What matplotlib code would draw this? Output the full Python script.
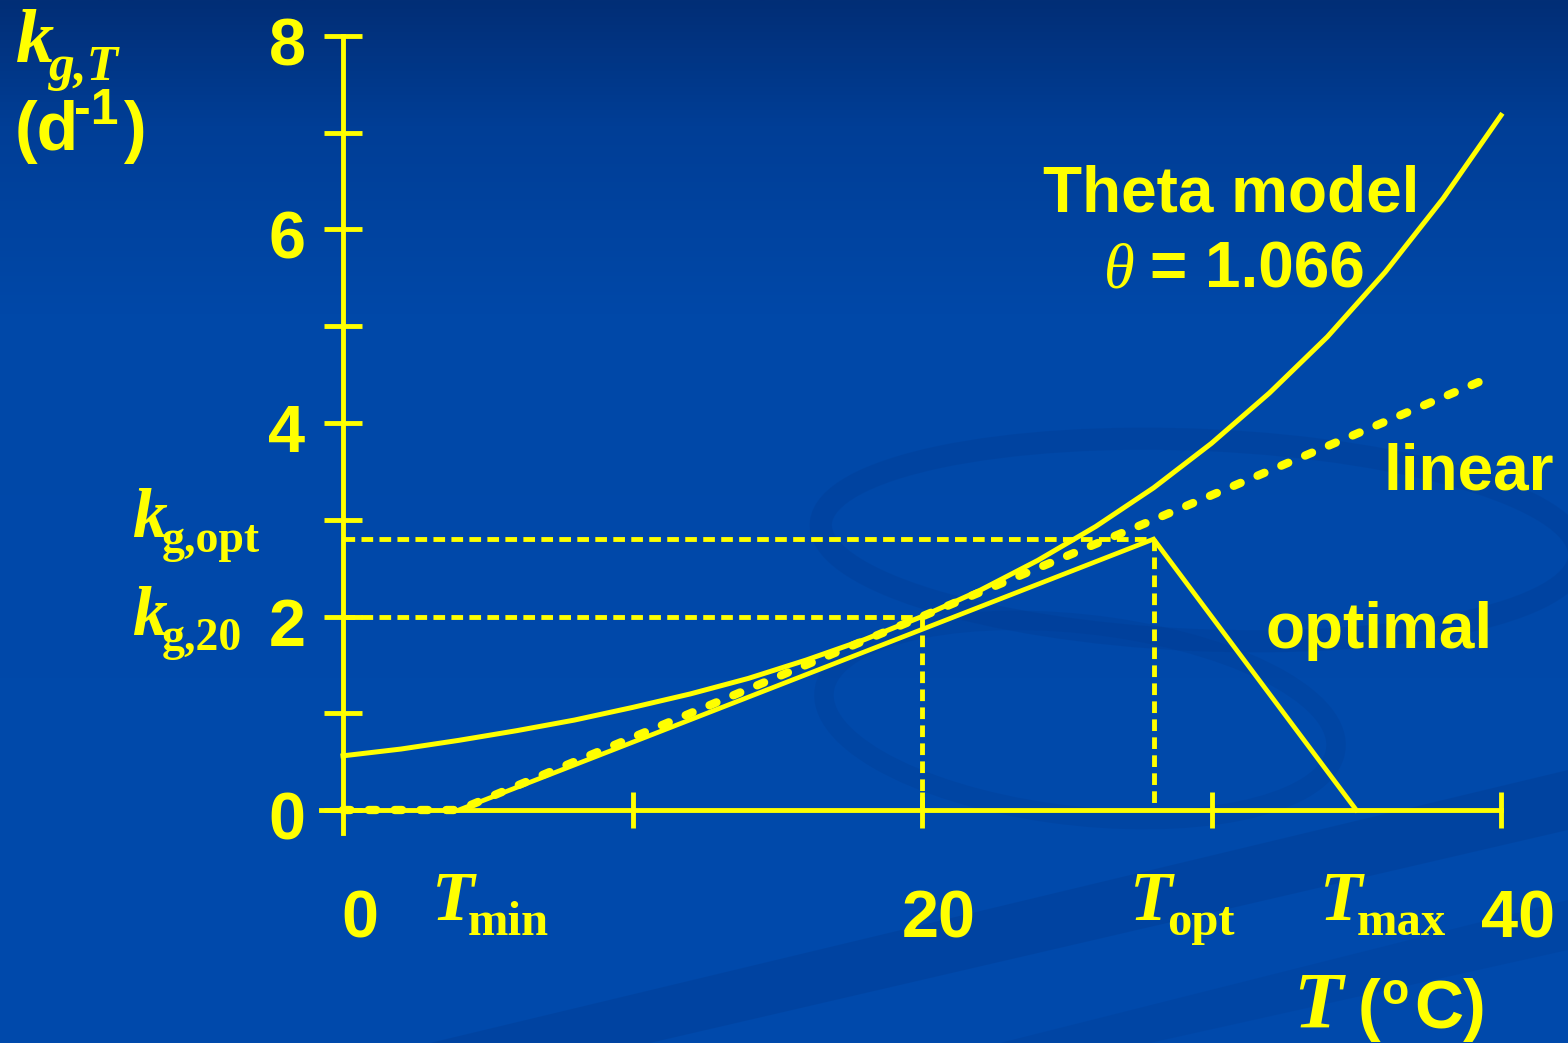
import numpy as np
import matplotlib
matplotlib.use("Agg")
import matplotlib.pyplot as plt
from matplotlib.patches import Polygon, Ellipse

# ---------------- data ----------------
temp_theta = [0, 2, 4, 6, 8, 10, 12, 14, 16, 18, 20, 22, 24, 26, 28, 30, 32, 34, 36, 38, 40]
k_theta = [0.56, 0.63, 0.72, 0.82, 0.93, 1.06, 1.20, 1.36, 1.55, 1.76, 2.00,
           2.27, 2.58, 2.93, 3.33, 3.79, 4.31, 4.89, 5.56, 6.32, 7.18]

temp_linear = [0, 4, 20, 28, 39.6]
k_linear = [0.0, 0.0, 2.0, 3.0, 4.47]

temp_optimal = [4, 28, 35]
k_optimal = [0.0, 2.8, 0.0]

T_min, T_opt, T_max = 4, 28, 35
k_opt_value, k_20_value = 2.8, 2.0
T_ref = 20

y_ticks = [0, 1, 2, 3, 4, 5, 6, 7, 8]
y_tick_labels = ["0", "", "2", "", "4", "", "6", "", "8"]
x_ticks = [10, 20, 30, 40]
x_number_ticks = [0, 20, 40]
x_number_labels = ["0", "20", "40"]

# ---------------- style ----------------
YEL = "#FFFF00"
W, H = 1568, 1043
SANS = "Liberation Sans"
SERIF = "Liberation Serif"

fig = plt.figure(figsize=(W / 100, H / 100), dpi=100)

# background gradient
bg = fig.add_axes([0, 0, 1, 1])
bg.set_axis_off()
t = np.linspace(0, 1, 400)
stops = [0.0, 0.12, 0.3, 1.0]
r = np.interp(t, stops, [2, 0, 0, 0])
g = np.interp(t, stops, [46, 62, 72, 74])
b = np.interp(t, stops, [118, 150, 168, 172])
grad = np.stack([r, g, b], axis=-1)[:, None, :] / 255.0
bg.imshow(grad, aspect="auto", extent=[0, 1, 0, 1], origin="upper", zorder=0)
bg.set_xlim(0, 1)
bg.set_ylim(0, 1)


def P(x, y):
    return (x / W, 1 - y / H)


# faint decorative swooshes
dark = (0.0, 0.22, 0.55)
bg.add_patch(Polygon([P(430, 1043), P(1568, 770), P(1568, 830), P(650, 1043)],
                     closed=True, facecolor=dark, alpha=0.3, lw=0, zorder=1))
bg.add_patch(Polygon([P(1000, 1043), P(1568, 900), P(1568, 950), P(1150, 1043)],
                     closed=True, facecolor=dark, alpha=0.2, lw=0, zorder=1))
bg.add_patch(Ellipse(P(1200, 540), 760 / W, 200 / H, angle=-4, facecolor="none",
                     edgecolor=dark, lw=16, alpha=0.25, zorder=1))
bg.add_patch(Ellipse(P(1080, 720), 520 / W, 190 / H, angle=-12, facecolor="none",
                     edgecolor=dark, lw=14, alpha=0.22, zorder=1))

# main axes: data x 0..40 -> px 343..1501, y 0..8 -> px 810..36
pxx = (1501 - 343) / 40.0
pxy = (810 - 36) / 8.0
xmin, xmax, ymin, ymax = -1, 41, -0.5, 8.3
left = 343 + xmin * pxx
bottom = (H - 810) + ymin * pxy
ax = fig.add_axes([left / W, bottom / H, (xmax - xmin) * pxx / W, (ymax - ymin) * pxy / H])
ax.set_xlim(xmin, xmax)
ax.set_ylim(ymin, ymax)
ax.patch.set_alpha(0)

for s in ["top", "right"]:
    ax.spines[s].set_visible(False)
ax.spines["left"].set_position(("data", 0))
ax.spines["bottom"].set_position(("data", 0))
ax.spines["left"].set_bounds(-0.24, 8)
ax.spines["bottom"].set_bounds(-0.75, 40)
for s in ["left", "bottom"]:
    ax.spines[s].set_color(YEL)
    ax.spines[s].set_linewidth(3.5)

ax.set_yticks(y_ticks)
ax.set_xticks(x_ticks)
ax.tick_params(axis="y", direction="inout", length=28, width=3.5, color=YEL,
               labelleft=False)
ax.tick_params(axis="x", direction="inout", length=26, width=3.5, color=YEL,
               labelbottom=False)

# reference dotted lines
dot = dict(color=YEL, lw=3.5, ls=(0, (2.4, 1.3)), dash_capstyle="butt", zorder=3)
ax.plot([0, T_opt], [k_opt_value, k_opt_value], **dot)
ax.plot([0, T_ref], [k_20_value, k_20_value], **dot)
ax.plot([T_opt, T_opt], [k_opt_value, 0], **dot)
ax.plot([T_ref, T_ref], [k_20_value, 0], **dot)

# curves
ax.plot(temp_theta, k_theta, color=YEL, lw=3.6, zorder=4, clip_on=False)
ax.plot(temp_optimal, k_optimal, color=YEL, lw=3.4, zorder=4, solid_joinstyle="miter")
ax.plot(temp_linear, k_linear, color=YEL, lw=6.0, ls=(0, (0.9, 2.2)),
        dash_capstyle="round", zorder=5)

# y tick labels
num = dict(color=YEL, fontsize=48, fontweight="bold", family=SANS)
for v, lab in zip(y_ticks, y_tick_labels):
    if lab:
        ax.annotate(lab, (0, v), xytext=(-27, -21), textcoords="offset points",
                    ha="right", va="baseline", **num)
# x number labels
for v, lab in zip(x_number_ticks, x_number_labels):
    ax.annotate(lab, (v, 0), xytext=(12, -92), textcoords="offset points",
                ha="center", va="baseline", **num)


# serif labels with subscripts
def serif_label(x_main, y_main, main, x_sub, y_sub, sub, size_main, size_sub,
                sub_style="normal"):
    fig.text(*P(x_main, y_main), main, family=SERIF, style="italic", weight="bold",
             fontsize=size_main, color=YEL, ha="left", va="baseline")
    fig.text(*P(x_sub, y_sub), sub, family=SERIF, style=sub_style, weight="bold",
             fontsize=size_sub, color=YEL, ha="left", va="baseline")


serif_label(432, 920, "T", 468, 935, "min", 50, 35)
serif_label(1130, 920, "T", 1167, 935, "opt", 50, 35)
serif_label(1320, 920, "T", 1357, 935, "max", 50, 35)

serif_label(132, 537, "k", 162, 552, "g,opt", 50, 33)
serif_label(132, 635, "k", 162, 650, "g,20", 50, 33)
serif_label(16, 62, "k", 49, 80, "g,T", 55, 37, sub_style="italic")

# unit label (d^-1)
fig.text(*P(15, 150), "(d", family=SANS, weight="bold", fontsize=49, color=YEL,
         ha="left", va="baseline")
fig.text(*P(74, 124), "-1", family=SANS, weight="bold", fontsize=36, color=YEL,
         ha="left", va="baseline")
fig.text(*P(124, 150), ")", family=SANS, weight="bold", fontsize=49, color=YEL,
         ha="left", va="baseline")

# x axis title T (°C)
fig.text(*P(1293, 1028), "T", family=SERIF, style="italic", weight="bold",
         fontsize=58, color=YEL, ha="left", va="baseline")
fig.text(*P(1358, 1028), "(", family=SANS, weight="bold", fontsize=49, color=YEL,
         ha="left", va="baseline")
fig.text(*P(1381, 1004), "o", family=SANS, weight="bold", fontsize=32, color=YEL,
         ha="left", va="baseline")
fig.text(*P(1414, 1028), "C)", family=SANS, weight="bold", fontsize=49, color=YEL,
         ha="left", va="baseline")

# annotations
ann = dict(family=SANS, weight="bold", fontsize=46, color=YEL, va="baseline")
fig.text(*P(1043, 212), "Theta model", ha="left", **ann)
fig.text(*P(1104, 288), "θ", family=SERIF, style="italic", fontsize=45, color=YEL,
         ha="left", va="baseline")
fig.text(*P(1150, 288), "= 1.066", ha="left", **ann)
fig.text(*P(1383, 490), "linear", ha="left", **ann)
fig.text(*P(1265, 648), "optimal", ha="left", **ann)

fig.savefig("out.png", dpi=100)
